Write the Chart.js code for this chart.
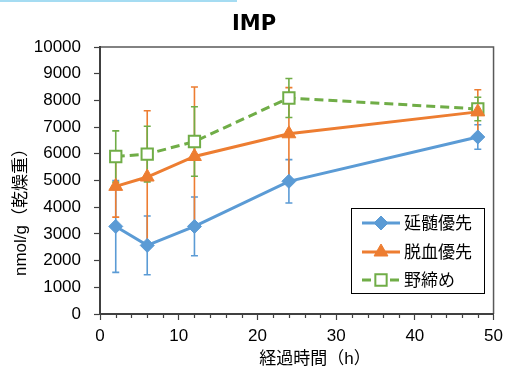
<!DOCTYPE html>
<html>
<head>
<meta charset="utf-8">
<script src="https://cdn.jsdelivr.net/npm/chart.js@4/dist/chart.umd.min.js"></script>
<style>
html,body{margin:0;padding:0;background:#fff;}
#wrap{position:relative;width:509px;height:373px;}
#bar{position:absolute;left:0;top:0;width:237px;height:2px;background:#a5dcf2;}
canvas{position:absolute;left:0;top:0;}
</style>
</head>
<body>
<div id="wrap"><canvas id="c" width="509" height="373"></canvas><div id="bar"></div></div>
<script>
// ---- data ----
const titleText = 'IMP';
const xTitle = '経過時間（h）';
const yTitle = 'nmol/g（乾燥重）';
const hours = [2, 6, 12, 24, 48];
const seriesNames = ['延髄優先', '脱血優先', '野締め'];
const enzui = [3280, 2570, 3280, 4970, 6630];
const enzuiErr = [1720, 1100, 1100, 810, 460];
const dakketsu = [4780, 5130, 5900, 6750, 7570];
const dakketsuErr = [1150, 2480, 2600, 1730, 830];
const nojime = [5900, 5990, 6460, 8090, 7680];
const nojimeErr = [960, 1040, 1300, 730, 440];
const xTicks = [0, 10, 20, 30, 40, 50];
const yTicks = [0, 1000, 2000, 3000, 4000, 5000, 6000, 7000, 8000, 9000, 10000];

const BLUE = '#5B9BD5', ORANGE = '#ED7D31', GREEN = '#70AD47';
const FONT = '"Liberation Sans", "Noto Sans CJK JP", sans-serif';
const errs = [enzuiErr, dakketsuErr, nojimeErr];

function pts(vals){ return hours.map((h,i)=>({x:h, y:vals[i]})); }

const errorBars = {
  id:'errorBars',
  beforeDatasetsDraw(chart){
    const ctx = chart.ctx, xs = chart.scales.x, ys = chart.scales.y;
    chart.data.datasets.forEach((ds, di)=>{
      ctx.save();
      ctx.strokeStyle = ds.borderColor;
      ctx.lineWidth = 1.6;
      ds.data.forEach((p, i)=>{
        const e = errs[di][i];
        const x = xs.getPixelForValue(p.x);
        const y1 = ys.getPixelForValue(p.y + e), y2 = ys.getPixelForValue(p.y - e);
        ctx.beginPath();
        ctx.moveTo(x, y1); ctx.lineTo(x, y2);
        ctx.moveTo(x-3.5, y1); ctx.lineTo(x+3.5, y1);
        ctx.moveTo(x-3.5, y2); ctx.lineTo(x+3.5, y2);
        ctx.stroke();
      });
      ctx.restore();
    });
  }
};

const decorations = {
  id:'decorations',
  beforeDraw(chart){
    const ctx = chart.ctx, a = chart.chartArea, xs = chart.scales.x;
    ctx.save();
    ctx.strokeStyle = '#595959';
    ctx.lineWidth = 1.5;
    ctx.beginPath();
    ctx.moveTo(a.left, a.top); ctx.lineTo(a.right, a.top); ctx.lineTo(a.right, a.bottom);
    ctx.stroke();
    ctx.strokeStyle = '#404040';
    ctx.lineWidth = 1.2;
    ctx.beginPath();
    for (let v = 2; v < 50; v += 2) {
      if (v % 10 === 0) continue;
      const x = Math.round(xs.getPixelForValue(v)) + 0.5;
      ctx.moveTo(x, a.bottom); ctx.lineTo(x, a.bottom + 4);
    }
    ctx.stroke();
    ctx.restore();
  },
  afterDraw(chart){
    const ctx = chart.ctx;
    ctx.save();
    ctx.fillStyle = '#000';
    ctx.textAlign = 'center';
    ctx.textBaseline = 'middle';
    ctx.font = 'bold 21px "DejaVu Sans", sans-serif';
    ctx.fillText(titleText, 254, 25);
    ctx.font = '17px ' + FONT;
    ctx.fillText(xTitle, 315, 359);
    ctx.translate(21, 208);
    ctx.rotate(-Math.PI/2);
    ctx.fillText(yTitle, 0, 0);
    ctx.restore();
    ctx.save();
    const bx = 351, by = 208, bw = 133, bh = 85;
    ctx.fillStyle = '#fff';
    ctx.fillRect(bx, by, bw, bh);
    ctx.strokeStyle = '#000';
    ctx.lineWidth = 1;
    ctx.strokeRect(bx+0.5, by+0.5, bw, bh);
    const rows = [223, 252, 280];
    chart.data.datasets.forEach((ds, i)=>{
      const y = rows[i];
      ctx.strokeStyle = ds.borderColor;
      ctx.lineWidth = ds.borderWidth;
      ctx.setLineDash(ds.borderDash || []);
      ctx.beginPath(); ctx.moveTo(362, y); ctx.lineTo(400, y); ctx.stroke();
      ctx.setLineDash([]);
      ctx.fillStyle = ds.pointBackgroundColor;
      ctx.strokeStyle = ds.borderColor;
      ctx.lineWidth = ds.pointBorderWidth;
      Chart.helpers.drawPoint(ctx, {pointStyle: ds.pointStyle, radius: ds.pointRadius, borderWidth: ds.pointBorderWidth, rotation: 0}, 381, y);
      ctx.fillStyle = '#000';
      ctx.textAlign = 'left';
      ctx.textBaseline = 'middle';
      ctx.font = '17px ' + FONT;
      ctx.fillText(ds.label, 404, y + 1);
    });
    ctx.restore();
  }
};

new Chart(document.getElementById('c'), {
  type: 'line',
  data: {
    datasets: [
      {label: seriesNames[0], data: pts(enzui), borderColor: BLUE, backgroundColor: BLUE, borderWidth: 3,
       pointStyle: 'rectRot', pointRadius: 7, pointBackgroundColor: BLUE, pointBorderColor: BLUE, pointBorderWidth: 1, tension: 0},
      {label: seriesNames[1], data: pts(dakketsu), borderColor: ORANGE, backgroundColor: ORANGE, borderWidth: 3,
       pointStyle: 'triangle', pointRadius: 8, pointBackgroundColor: ORANGE, pointBorderColor: ORANGE, pointBorderWidth: 1, tension: 0},
      {label: seriesNames[2], data: pts(nojime), borderColor: GREEN, backgroundColor: '#fff', borderWidth: 3, borderDash: [9, 5],
       pointStyle: 'rect', pointRadius: 8, pointBackgroundColor: '#fff', pointBorderColor: GREEN, pointBorderWidth: 2, tension: 0}
    ]
  },
  options: {
    responsive: false,
    animation: false,
    events: [],
    layout: {padding: {left: 0, right: 13, top: 47, bottom: 0}},
    plugins: {legend: {display: false}, title: {display: false}, tooltip: {enabled: false}},
    scales: {
      x: {
        type: 'linear', min: 0, max: 50,
        afterBuildTicks(s){ s.ticks = xTicks.map(v=>({value:v})); },
        afterFit(s){ s.height = 59; },
        grid: {drawOnChartArea: false, drawTicks: true, tickLength: 6, color: '#404040', tickWidth: 1.2},
        border: {color: '#404040', width: 2},
        ticks: {font: {family: FONT, size: 17}, color: '#000', padding: 6, maxRotation: 0, callback: v => String(v)}
      },
      y: {
        min: 0, max: 10000,
        afterBuildTicks(s){ s.ticks = yTicks.map(v=>({value:v})); },
        afterFit(s){ s.width = 100; },
        grid: {drawOnChartArea: false, drawTicks: true, tickLength: 6, color: '#404040', tickWidth: 1.2},
        border: {color: '#404040', width: 2},
        ticks: {font: {family: FONT, size: 17}, color: '#000', padding: 13, callback: v => String(v)}
      }
    }
  },
  plugins: [errorBars, decorations]
});
</script>
</body>
</html>
